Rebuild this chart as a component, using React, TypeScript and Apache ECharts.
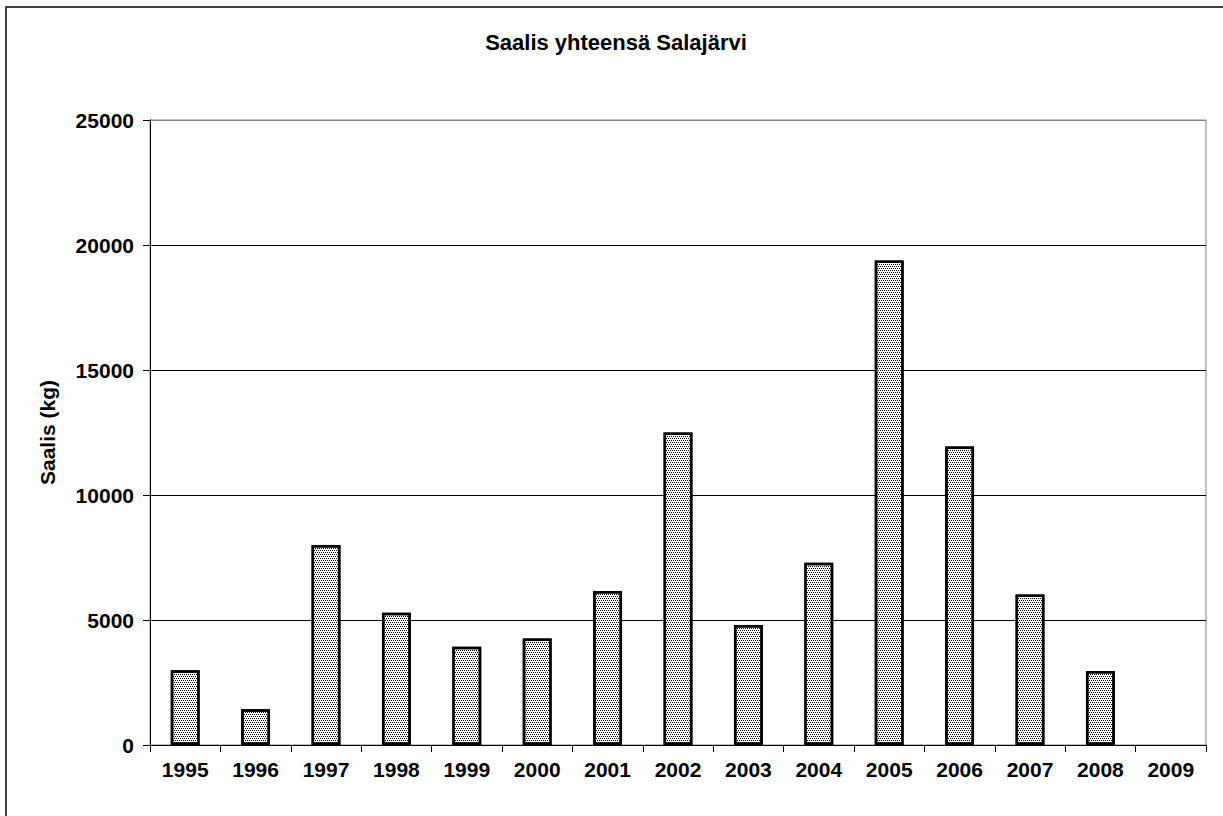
import React, { useEffect, useRef } from "react";
import * as echarts from "echarts";

const years = ["1995", "1996", "1997", "1998", "1999", "2000", "2001", "2002", "2003", "2004", "2005", "2006", "2007", "2008", "2009"];
const catch_kg: (number | null)[] = [2990, 1430, 8000, 5290, 3930, 4260, 6160, 12500, 4800, 7290, 19380, 11940, 6020, 2960, null];
const chartTitle = "Saalis yhteensä Salajärvi";
const yAxisName = "Saalis (kg)";

export default function App() {
  const ref = useRef<HTMLDivElement>(null);
  useEffect(() => {
    document.body.style.margin = "0";
    if (!ref.current) return;
    const chart = echarts.init(ref.current, null, { renderer: "svg" });
    const font = "'Liberation Sans', Arial, sans-serif";
    chart.setOption({
      animation: false,
      backgroundColor: "#fff",
      textStyle: { fontFamily: font },
      graphic: [
        {
          type: "rect",
          shape: { x: 6, y: 7, width: 1300, height: 900 },
          style: { fill: "none", stroke: "#000", lineWidth: 1.5 },
          silent: true,
        },
        {
          type: "text",
          x: 616,
          y: 42,
          style: {
            text: chartTitle,
            textAlign: "center",
            textVerticalAlign: "middle",
            font: `bold 22px ${font}`,
            fill: "#000",
          },
        },
      ],
      grid: {
        left: 150,
        right: 17,
        top: 120,
        bottom: 71,
        show: true,
        borderColor: "#808080",
        borderWidth: 1,
        backgroundColor: "#fff",
      },
      xAxis: {
        type: "category",
        data: years,
        boundaryGap: true,
        axisLine: { lineStyle: { color: "#000", width: 1 } },
        axisTick: { show: true, length: 7, lineStyle: { color: "#000" } },
        axisLabel: { color: "#000", fontWeight: "bold", fontSize: 21, margin: 14, fontFamily: font },
      },
      yAxis: {
        type: "value",
        min: 0,
        max: 25000,
        interval: 5000,
        name: yAxisName,
        nameLocation: "middle",
        nameGap: 92,
        nameRotate: 90,
        nameTextStyle: { color: "#000", fontWeight: "bold", fontSize: 21, fontFamily: font },
        axisLine: { show: true, lineStyle: { color: "#000", width: 1 } },
        axisTick: { show: true, length: 7, lineStyle: { color: "#000" } },
        axisLabel: {
          color: "#000",
          fontWeight: "bold",
          fontSize: 21,
          margin: 16,
          fontFamily: font,
          formatter: (v: number) => String(v),
        },
        splitLine: {
          show: true,
          lineStyle: { color: ["#000", "#000", "#000", "#000", "#000", "#808080"], width: 1 },
        },
      },
      series: [
        {
          type: "bar",
          data: catch_kg,
          barWidth: "41%",
          itemStyle: {
            color: "#fff",
            borderColor: "#000",
            borderWidth: 2.5,
            decal: {
              symbol: "rect",
              symbolSize: 1,
              color: "#000",
              dashArrayX: [[1, 1], [0, 1, 1, 0]],
              dashArrayY: [1, 1],
              rotation: 0,
            },
          },
        },
      ],
    });
    return () => chart.dispose();
  }, []);
  return <div ref={ref} style={{ width: 1223, height: 816 }} />;
}
